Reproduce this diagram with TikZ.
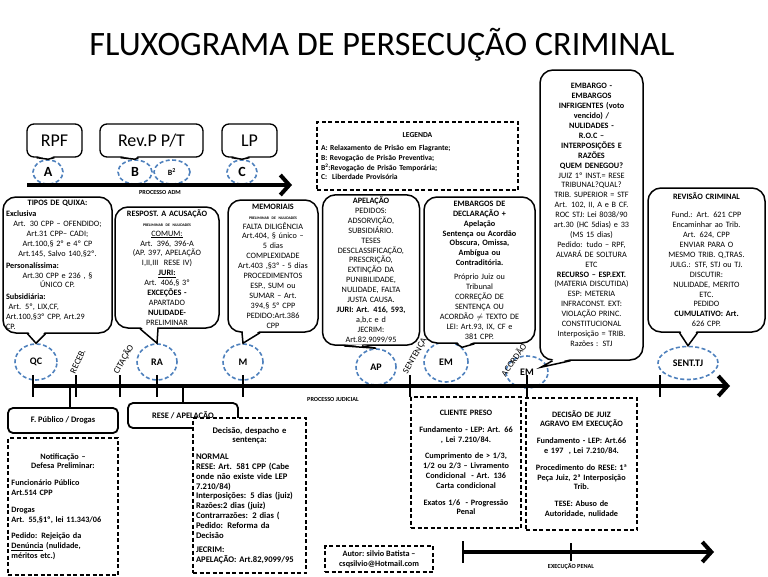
\documentclass[tikz,border=0pt]{standalone}
\usepackage{fontspec}
\setmainfont{Carlito}
\usetikzlibrary{arrows.meta,calc,shapes.geometric}

\definecolor{elblue}{RGB}{79,129,189}
\newcommand{\lline}[1]{\makebox[\hsize][l]{#1}}
\newcommand{\jline}[1]{\makebox[\hsize][s]{#1}}
\newcommand{\cntline}[1]{\makebox[\hsize][c]{#1}}
% bico do balao: no, deslocamento da base, ponta
\newcommand{\callptr}[3]{%
  \fill[white] ($(#1.south)+(#2-8,-1.6)$) -- (#3) -- ($(#1.south)+(#2+8,-1.6)$) -- cycle;
  \draw[line width=1.5pt,line join=miter] ($(#1.south)+(#2-9,0)$) -- (#3) -- ($(#1.south)+(#2+9,0)$);}

\begin{document}
\begin{tikzpicture}[x=1pt,y=-1pt,
  callbox/.style={draw,fill=white,line width=1.5pt,rounded corners=13pt,align=center,inner sep=2pt,font=\fontsize{8.2}{9.9}\selectfont},
  topbox/.style={draw,fill=white,line width=1.3pt,rounded corners=7pt,minimum height=33,font=\fontsize{18}{18}\selectfont},
  dashel/.style={ellipse,draw=elblue,dash pattern=on 4pt off 2.5pt,line width=1.6pt,inner sep=0pt,font=\bfseries\fontsize{10}{10}\selectfont},
  dashbox/.style={draw,dash pattern=on 4pt off 2.5pt,line width=1.1pt,inner sep=3pt,font=\bfseries\fontsize{8.2}{9.8}\selectfont},
  solidbox/.style={draw,fill=white,line width=1.8pt,rounded corners=5pt,font=\bfseries\fontsize{8.4}{8.4}\selectfont},
  timeln/.style={line width=4pt,-{Straight Barb[length=9pt,width=20pt]}},
  tickln/.style={line width=2.5pt},
  rotlab/.style={inner sep=1pt,font=\fontsize{9}{9}\selectfont},
  smlab/.style={font=\bfseries\fontsize{6.2}{6.2}\selectfont}]
\useasboundingbox (0,0) rectangle (768,576);

\node (title) at (382,45) {\fontsize{34.2}{34}\selectfont FLUXOGRAMA DE PERSECUÇÃO CRIMINAL};

% ============ PROCESSO ADM (topo) ============
\node[dashel,minimum width=30,minimum height=24,font=\bfseries\fontsize{14}{14}\selectfont] (a) at (48,172) {A};
\node[dashel,minimum width=34,minimum height=24,font=\bfseries\fontsize{14}{14}\selectfont] (b) at (135,172) {B};
\node[dashel,minimum width=36,minimum height=24,font=\bfseries\fontsize{8}{8}\selectfont] (b2) at (172,172) {B\textsuperscript{2}};
\node[dashel,minimum width=30,minimum height=24,font=\bfseries\fontsize{14}{14}\selectfont] (c) at (242,172) {C};

\node[topbox,minimum width=55] (rpf) at (54.5,140.5) {RPF};
\node[topbox,minimum width=103] (revp) at (151.5,140.5) {Rev.P P/T};
\node[topbox,minimum width=55] (lp) at (249.5,140.5) {LP};
\callptr{rpf}{-9}{a.north}
\callptr{revp}{-22}{b.north}
\callptr{lp}{-9}{c.north}

\coordinate (adm0) at (27,185);
\coordinate (adm1) at (292,185);
\draw[timeln] (adm0) -- (adm1);
\node[smlab] (admlab) at (160,192) {PROCESSO ADM};

% legenda
\node[dashbox,font=\bfseries\fontsize{7.6}{9.6}\selectfont,minimum width=201,minimum height=68,text width=193,align=left] (leg) at (417.5,156) {%
  \cntline{LEGENDA}\\[4pt]
  A: Relaxamento de Prisão em Flagrante;\\
  B: Revogação de Prisão Preventiva;\\
  B\textsuperscript{2}:Revogação de Prisão Temporária;\\
  C:\ \ Liberdade Provisória};

% ============ PROCESSO JUDICIAL ============
\node[dashel,minimum width=42,minimum height=36] (qc) at (36,362) {QC};
\node[dashel,minimum width=40,minimum height=36] (ra) at (157,362) {RA};
\node[dashel,minimum width=40,minimum height=36] (m) at (243,362) {M};
\node[dashel,minimum width=40,minimum height=36] (ap) at (376,367) {AP};
\node[dashel,minimum width=44,minimum height=40] (em1) at (446,362) {EM};
\node[dashel,minimum width=42,minimum height=32] (em2) at (527,372) {EM};
\node[dashel,minimum width=60,minimum height=33] (sent) at (688,363) {SENT.TJ};

\coordinate (pj0) at (33,386);
\coordinate (pj1) at (730,386);
\draw[timeln] (pj0) -- (pj1);
\foreach \tx in {33,76,120,157,243,410,527,660}
  \draw[tickln] (\tx,375) -- (\tx,397);
\node[smlab] (pjlab) at (333,399) {PROCESSO JUDICIAL};

\node[rotlab,rotate=65,anchor=west] (receb) at (72,374) {RECEB.};
\node[rotlab,rotate=60,anchor=west] (cit) at (115,374) {CITAÇÃO};
\node[rotlab,rotate=60,anchor=west] (sentc) at (405,374) {SENTENÇA};
\node[rotlab,rotate=55,anchor=west] (acord) at (502,376) {ACORDÃO};

% baloes
\node[callbox,minimum width=109,minimum height=136,text width=103] (tq) at (57.5,265) {%
  \textbf{TIPOS DE QUIXA:}\\[1pt]
  \lline{\textbf{Exclusiva}}\\
  Art. 30 CPP – OFENDIDO;\\
  Art.31 CPP– CADI;\\
  Art.100,§ 2º e 4º CP\\
  Art.145, Salvo 140,§2º.\\[2pt]
  \lline{\textbf{Personalíssima:}}\\
  Art.30 CPP e 236 , §\\
  ÚNICO CP.\\[2pt]
  \lline{\textbf{Subsidiária:}}\\
  \lline{\ Art. 5º, LIX,CF,}\\
  \lline{Art.100,§3º CPP, Art.29}\\
  \lline{CP.}};
\callptr{tq}{-21}{qc.north}

\node[callbox,minimum width=104,minimum height=121,text width=100] (resp) at (167,267.5) {%
  \textbf{RESPOST. A ACUSAÇÃO}\\
  {\fontsize{3.8}{4}\selectfont\textbf{PRELIMINAR DE NULIDADES}}\\
  \underline{COMUM:}\\
  Art. 396, 396-A\\
  (AP. 397, APELAÇÃO\\
  I,II,III\ \ RESE IV)\\
  \underline{\textbf{JURI:}}\\
  Art. 406,§ 3º\\
  \textbf{EXCEÇÕES -}\\
  APARTADO\\
  \textbf{NULIDADE-}\\
  PRELIMINAR};
\callptr{resp}{-18}{ra.north}

\node[callbox,minimum width=88,minimum height=132,text width=86] (mem) at (273,266) {%
  \textbf{MEMORIAIS}\\
  {\fontsize{3.8}{4}\selectfont\textbf{PRELIMINAR DE NULIDADES}}\\
  FALTA DILIGÊNCIA\\
  Art.404, § único –\\
  5 dias\\
  COMPLEXIDADE\\
  Art.403 ,§3º - 5 dias\\
  PROCEDIMENTOS\\
  ESP., SUM ou\\
  SUMAR – Art.\\
  394,§ 5º CPP\\
  PEDIDO:Art.386\\
  CPP};
\callptr{mem}{-22}{m.north}

\node[callbox,minimum width=97,minimum height=150,text width=93] (apel) at (371,270) {%
  \textbf{APELAÇÃO}\\
  PEDIDOS:\\
  ADSORVIÇÃO,\\
  SUBSIDIÁRIO.\\
  TESES\\
  DESCLASSIFICAÇÃO,\\
  PRESCRIÇÃO,\\
  EXTINÇÃO DA\\
  PUNIBILIDADE,\\
  NULIDADE, FALTA\\
  JUSTA CAUSA.\\
  \textbf{JURI: Art. 416, 593,}\\
  a,b,c e d\\
  JECRIM:\\
  Art.82,9099/95};
\callptr{apel}{-18}{ap.north}

\node[callbox,minimum width=111,minimum height=146,text width=105] (emb) at (479.5,270) {%
  \textbf{EMBARGOS DE}\\
  \textbf{DECLARAÇÃO +}\\
  \textbf{Apelação}\\
  \textbf{Sentença ou Acordão}\\
  \textbf{Obscura, Omissa,}\\
  \textbf{Ambígua ou}\\
  \textbf{Contraditória.}\\[4pt]
  Próprio Juiz ou\\
  Tribunal\\
  CORREÇÃO DE\\
  SENTENÇA OU\\
  ACORDÃO $\neq$ TEXTO DE\\
  LEI: Art.93, IX, CF e\\
  381 CPP.};
\callptr{emb}{-14}{em1.north east}

\node[callbox,minimum width=103,minimum height=290,text width=99] (infr) at (591.5,215) {%
  \textbf{EMBARGO -}\\
  \textbf{EMBARGOS}\\
  \textbf{INFRIGENTES (voto}\\
  \textbf{vencido) /}\\
  \textbf{NULIDADES -}\\
  \textbf{R.O.C –}\\
  \textbf{INTERPOSIÇÕES E}\\
  \textbf{RAZÕES}\\
  \textbf{QUEM DENEGOU?}\\
  JUIZ 1º INST.= RESE\\
  TRIBUNAL?QUAL?\\
  TRIB. SUPERIOR = STF\\
  Art. 102, II, A e B CF.\\
  ROC STJ: Lei 8038/90\\
  art.30 (HC 5dias) e 33\\
  (MS 15 dias)\\
  Pedido: tudo – RPF,\\
  ALVARÁ DE SOLTURA\\
  ETC\\
  \textbf{RECURSO – ESP.EXT.}\\
  (MATERIA DISCUTIDA)\\
  ESP: METERIA\\
  INFRACONST. EXT:\\
  VIOLAÇÃO PRINC.\\
  CONSTITUCIONAL\\
  Interposição = TRIB.\\
  Razões : STJ};
\callptr{infr}{-30}{$(em2.north)+(14,12)$}

\node[callbox,minimum width=117,minimum height=144,text width=111] (rev) at (706.5,260) {%
  \textbf{REVISÃO CRIMINAL}\\[8pt]
  Fund.: Art. 621 CPP\\
  Encaminhar ao Trib.\\
  Art. 624, CPP\\
  ENVIAR PARA O\\
  MESMO TRIB. Q,TRAS.\\
  JULG.: STF, STJ ou TJ.\\
  DISCUTIR:\\
  NULIDADE, MERITO\\
  ETC.\\
  PEDIDO\\
  \textbf{CUMULATIVO: Art.}\\
  626 CPP.};
\callptr{rev}{-18}{sent.north}

% ============ parte inferior ============
\node[solidbox,minimum width=110,minimum height=25] (fp) at (63,420.5) {F. Público / Drogas};
\node[solidbox,minimum width=110,minimum height=25] (rese) at (183,415.5) {RESE / APELAÇÃO};
\draw[line width=1.5pt] (fp.north -| 70,0) -- (70,388);
\draw[line width=1.5pt] (rese.north) -- (183,388);

\node[dashbox,minimum width=110,minimum height=137,text width=103,align=left] (notif) at (63,506.5) {%
  \cntline{Notificação –}\\
  \cntline{Defesa Preliminar:}\\[7pt]
  Funcionário Público\\
  Art.514 CPP\\[7pt]
  Drogas\\
  Art. 55,§1º, lei 11.343/06\\[7pt]
  \jline{Pedido: Rejeição da}\\
  \jline{\underline{Denúncia} (nulidade,}\\
  méritos etc.)};

\node[dashbox,fill=white,font=\bfseries\fontsize{8.6}{9.8}\selectfont,minimum width=113,minimum height=155,text width=107,align=left] (dec) at (249.5,495.5) {%
  \cntline{Decisão, despacho e}\\
  \cntline{sentença:}\\[7pt]
  NORMAL\\
  \jline{RESE: Art. 581 CPP (Cabe}\\
  \jline{onde não existe vide LEP}\\
  7.210/84)\\
  Interposições: 5 dias (juiz)\\
  Razões:2 dias (juiz)\\
  Contrarrazões: 2 dias (\\
  \jline{Pedido: Reforma da}\\
  Decisão\\[5pt]
  JECRIM:\\
  APELAÇÃO: Art.82,9099/95};

\node[dashbox,minimum width=108,minimum height=26,align=center] (autor) at (379,559) {%
  Autor: silvio Batista –\\ csqsilvio@Hotmail.com};

\node[dashbox,minimum width=108,minimum height=131,text width=104,align=center] (cli) at (466,462.5) {%
  CLIENTE PRESO\\[7pt]
  Fundamento - LEP: Art. 66\\
  , Lei 7.210/84.\\[7pt]
  Cumprimento de > 1/3,\\
  1/2 ou 2/3 – Livramento\\
  Condicional\ \ - Art. 136\\
  Carta condicional\\[7pt]
  Exatos 1/6\ \ - Progressão\\
  Penal};

\node[dashbox,minimum width=109,minimum height=132,text width=105,align=center] (dj) at (581.5,464) {%
  DECISÃO DE JUIZ\\
  AGRAVO EM EXECUÇÃO\\[7pt]
  Fundamento - LEP: Art.66\\
  e 197\ \ , Lei 7.210/84.\\[7pt]
  Procedimento do RESE: 1ª\\
  Peça Juiz, 2ª Interposição\\
  Trib.\\[7pt]
  TESE: Abuso de\\
  Autoridade, nulidade};

% execucao penal
\coordinate (ep0) at (463,552);
\coordinate (ep1) at (714,552);
\draw[timeln] (ep0) -- (ep1);
\draw[tickln] (463,541) -- (463,563);
\draw[tickln] (571,543) -- (571,561);
\node[smlab] (eplab) at (571,566) {EXECUÇÃO PENAL};
\end{tikzpicture}
\end{document}
